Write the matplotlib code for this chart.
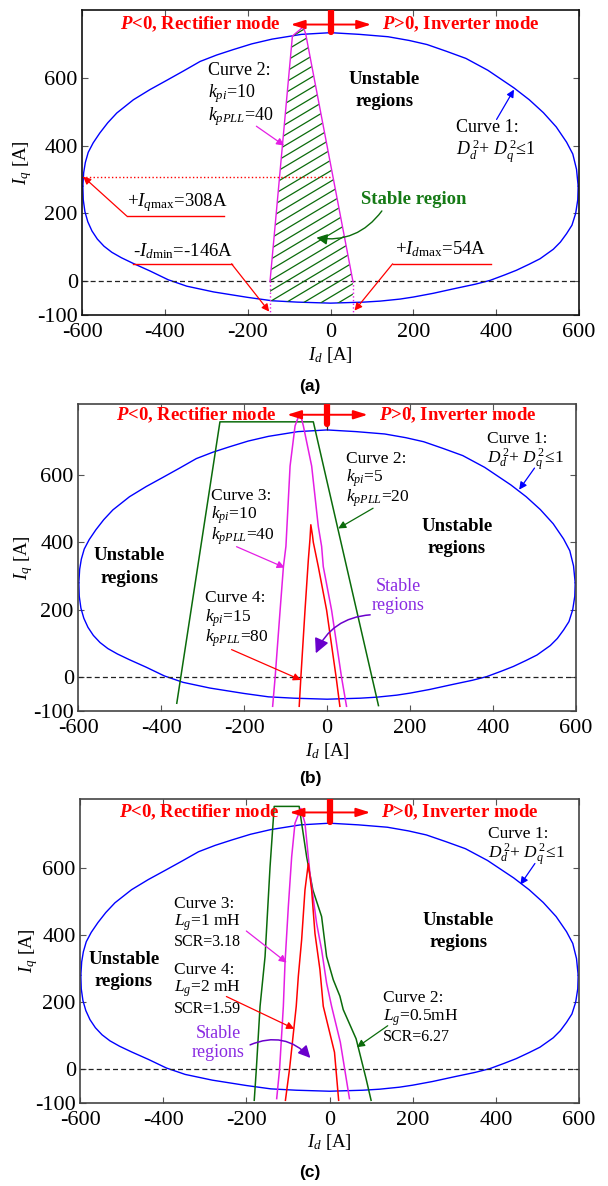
import numpy as np
import matplotlib.pyplot as plt
from matplotlib.patches import Polygon

plt.rcParams['font.family'] = ['Liberation Serif', 'DejaVu Serif']
plt.rcParams['axes.unicode_minus'] = False
plt.rcParams['mathtext.fontset'] = 'custom'
plt.rcParams['mathtext.rm'] = 'Liberation Serif'
plt.rcParams['mathtext.it'] = 'Liberation Serif:italic'
plt.rcParams['mathtext.bf'] = 'Liberation Serif:bold'
plt.rcParams['mathtext.bfit'] = 'Liberation Serif:italic:bold'

# Curve 1 (D_d^2 + D_q^2 <= 1), upper and lower branch, I_d / I_q in A
lim_up_id = [-598, -596, -592, -585, -573, -557, -538, -516, -476, -436, -396, -355, -315,
             -275, -235, -190, -141, -70, 0, 70, 139, 190, 233, 280, 327, 380, 443, 480,
             514, 545, 570, 585, 594, 598]
lim_up_iq = [280, 320, 350, 380, 408, 437, 467, 496, 535, 565, 592, 620, 648,
             667, 683, 700, 714, 728, 733, 728, 721, 710, 698, 678, 657, 622, 570, 535,
             497, 455, 410, 375, 330, 280]
lim_lo_id = [-598, -597, -593, -586, -576, -563, -547, -528, -505, -476, -436, -392, -347,
             -282, -200, -141, -80, 0, 80, 120, 168, 200, 248, 300, 350, 385, 420, 449,
             480, 506, 538, 555, 570, 583, 592, 597, 598]
lim_lo_iq = [280, 240, 205, 175, 148, 124, 103, 85, 69, 52, 30, 4, -15,
             -32, -48, -58, -62, -65, -62, -59, -53, -47, -36, -22, -9, 2, 18, 32,
             50, 66, 94, 115, 140, 165, 200, 240, 280]

# (a) curve 2: kpi=10, kpPLL=40
a_c2_id = [-146, -92, -66, -60, 54]
a_c2_iq = [0, 723, 750, 730, 0]
a_idmin = -146
a_idmax = 54
a_iqmax = 308

# (b) curve 2: kpi=5, kpPLL=20
b_c2_id = [-362, -258, -33, 124]
b_c2_iq = [-77, 757, 757, -84]
# (b) curve 3: kpi=10, kpPLL=40
b_c3_id = [-131, -125, -113, -105, -99, -89, -77, -65, -57, -37, -21, -13, -9, 11, 35, 47]
b_c3_iq = [-86, 0, 199, 328, 388, 626, 745, 785, 745, 626, 447, 388, 328, 199, 0, -86]
# (b) curve 4: kpi=15, kpPLL=80
b_c4_id = [-67, -63, -53, -45, -41, -39, -35, -33, -21, -1, 22, 31]
b_c4_iq = [-86, 0, 199, 348, 410, 452, 420, 400, 328, 199, 0, -86]

# (c) curve 2: Lg=0.5 mH
c_c2_id = [-181, -176, -167, -155, -143, -133, -73, -67, -55, -40, -19, -7, 9, 25, 33, 64, 88, 100]
c_c2_iq = [-92, 0, 188, 336, 603, 783, 783, 733, 633, 534, 455, 336, 267, 218, 178, 91, -28, -92]
# (c) curve 3: Lg=1 mH
c_c3_id = [-127, -120, -111, -107, -99, -91, -83, -69, -59, -47, -31, -19, -7, 5, 26, 48]
c_c3_iq = [-87, 2, 188, 317, 485, 633, 733, 777, 733, 583, 435, 356, 257, 188, 81, -87]
# (c) curve 4: Lg=2 mH
c_c4_id = [-106, -96, -80, -75, -67, -59, -51, -43, -35, -23, -15, 12, 22]
c_c4_iq = [-92, 2, 188, 277, 386, 534, 613, 534, 405, 297, 188, 51, -92]

x_ticks = [-600, -400, -200, 0, 200, 400, 600]
y_ticks = [-100, 0, 200, 400, 600]

RED = '#ff0000'
BLUE = '#0000ff'
MAG = '#e41ee4'
GRN = '#0b6b0b'
PURP = '#8a2be2'
PURP_AR = '#6a00cc'

fig = plt.figure(figsize=(6.08, 11.86), dpi=100)
ax_a = fig.add_axes([0.1349, 0.7344, 0.8174, 0.2572])
ax_b = fig.add_axes([0.1283, 0.4005, 0.8191, 0.2589])
ax_c = fig.add_axes([0.1316, 0.0700, 0.8207, 0.2563])


def setup(ax, top, ylab_x, frame):
    ax.set_xlim(-600, 600)
    ax.set_ylim(-100, top)
    ax.set_xticks(x_ticks)
    ax.set_yticks(y_ticks)
    ax.tick_params(direction='in', top=True, right=True, length=4, width=0.8,
                   color='#555555', labelsize=16)
    ax.tick_params(axis='x', pad=6)
    ax.tick_params(axis='y', pad=3)
    for sp in ax.spines.values():
        sp.set_color(frame)
        sp.set_linewidth(1.2)
    ax.set_xlabel(r'$I_d$ [A]', fontsize=13.5)
    ax.set_ylabel(r'$I_q$ [A]', fontsize=13.5)
    ax.xaxis.set_label_coords(0.5, -0.13)
    ax.xaxis.label.set_va('center')
    ax.yaxis.set_label_coords(ylab_x, 0.5)
    ax.yaxis.label.set_va('center')
    # stability limit of the converter
    ax.plot(lim_up_id, lim_up_iq, color=BLUE, lw=1.0)
    ax.plot(lim_lo_id, lim_lo_iq, color=BLUE, lw=1.0)
    ax.axhline(0, color='#222222', lw=0.9, ls=(0, (4, 2.5)))
    ax.plot([0, 0], [max(lim_up_iq), top], color='#222222', lw=0.9, ls=(0, (4, 2.5)))


def lines(ax, x, ys, texts, size=12.5, **kw):
    for y, t in zip(ys, texts):
        fs = size
        if isinstance(t, tuple):
            t, fs = t
        ax.text(x, y, t, fontsize=fs, va='center', **kw)


def arrow(ax, start, end, color, rad=0.0, scale=11, lw=0.9):
    ax.annotate('', xy=end, xytext=start,
                arrowprops=dict(arrowstyle='-|>', color=color, lw=lw, mutation_scale=scale,
                                shrinkA=0, shrinkB=0, connectionstyle=f'arc3,rad={rad}'))


def mode_header(ax, y, bar_lo, top):
    ax.text(-121, y, r'$\mathbfit{P}$<0, Rectifier mode', color=RED, fontsize=13.5,
            fontweight='bold', ha='right', va='center')
    ax.text(125, y, r'$\mathbfit{P}$>0, Inverter mode', color=RED, fontsize=13.5,
            fontweight='bold', ha='left', va='center')
    ax.annotate('', xy=(-96, y), xytext=(98, y),
                arrowprops=dict(arrowstyle='<|-|>,head_length=0.7,head_width=0.22', color=RED,
                                lw=1.4, mutation_scale=12, shrinkA=0, shrinkB=0))
    ax.plot([0, 0], [bar_lo, top], color=RED, lw=4.5, solid_capstyle='round', zorder=5)


# ---------------- (a) ----------------
ax = ax_a
setup(ax, 800, -0.119, '#111111')
mode_header(ax, 757, 736, 800)

lo_x = np.array(lim_lo_id, dtype=float)
lo_y = np.array(lim_lo_iq, dtype=float)
inner = [(x, y) for x, y in zip(lo_x, lo_y) if a_idmin < x < a_idmax][::-1]
verts = (list(zip(a_c2_id, a_c2_iq))
         + [(a_idmax, np.interp(a_idmax, lo_x, lo_y))] + inner
         + [(a_idmin, np.interp(a_idmin, lo_x, lo_y))])
region = Polygon(verts, closed=True, fill=False, lw=0)
ax.add_patch(region)
hx = np.array([-200.0, 100.0])
for c in np.arange(-140, 880, 31):
    ln, = ax.plot(hx, 0.73 * hx + c, color=GRN, lw=0.9)
    ln.set_clip_path(region)

ax.plot(a_c2_id, a_c2_iq, color=MAG, lw=1.0)
ax.plot([a_idmin, a_idmin], [0, -100], color=MAG, lw=1.0, ls=':')
ax.plot([a_idmax, a_idmax], [0, -100], color=MAG, lw=1.0, ls=':')
ax.plot([-600, 0], [a_iqmax, a_iqmax], color=RED, lw=1.0, ls=':')

lines(ax, -296, [621, 553, 485], ['Curve 2:', r'$k_{pi}$=10', r'$k_{pPLL}$=40'], size=13)
arrow(ax, (-179, 457), (-112, 400), MAG)
lines(ax, 130, [595, 531], ['Unstable', 'regions'], size=13.5, fontweight='bold', ha='center')
lines(ax, 303, [452, 383], ['Curve 1:', r'$D_d^{\,2}$+ $D_q^{\,2}$≤1'], size=13)
arrow(ax, (401, 477), (443, 565), BLUE)

ax.text(-492, 231, r'+$I_{q\mathrm{max}}$=308A', fontsize=13.5, va='center')
ax.plot([-258, -492], [192, 192], color=RED, lw=1.0)
arrow(ax, (-492, 192), (-597, a_iqmax), RED)

ax.text(74, 241, 'Stable region', color='#167a16', fontsize=13.5, fontweight='bold', va='center')
arrow(ax, (124, 207), (-34, 128), GRN, rad=-0.3, scale=16, lw=1.0)

ax.text(-478, 88, r'-$I_{d\mathrm{min}}$=-146A', fontsize=13.5, va='center')
ax.plot([-478, -239], [51, 51], color=RED, lw=1.0)
arrow(ax, (-239, 51), (a_idmin - 2, -90), RED)

ax.text(156, 95, r'+$I_{d\mathrm{max}}$=54A', fontsize=13.5, va='center')
ax.plot([387, 150], [51, 51], color=RED, lw=1.0)
arrow(ax, (150, 51), (a_idmax + 4, -87), RED)

# ---------------- (b) ----------------
ax = ax_b
setup(ax, 810, -0.11, '#444444')
mode_header(ax, 778, 750, 810)
ax.plot(b_c2_id, b_c2_iq, color=GRN, lw=1.1)
ax.plot(b_c3_id, b_c3_iq, color=MAG, lw=1.1)
ax.plot(b_c4_id, b_c4_iq, color=RED, lw=1.1)

lines(ax, 385, [706, 645], ['Curve 1:', r'$D_d^{\,2}$+ $D_q^{\,2}$≤1'])
arrow(ax, (500, 620), (463, 556), BLUE)
lines(ax, 45, [648, 589, 530], ['Curve 2:', r'$k_{pi}$=5', r'$k_{pPLL}$=20'])
arrow(ax, (111, 501), (27, 441), GRN)
lines(ax, 313, [448, 382], ['Unstable', 'regions'], size=13.5, fontweight='bold', ha='center')
lines(ax, -279, [538, 479, 418], ['Curve 3:', r'$k_{pi}$=10', r'$k_{pPLL}$=40'])
arrow(ax, (-218, 387), (-102, 325), MAG)
lines(ax, -476, [360, 293], ['Unstable', 'regions'], size=13.5, fontweight='bold', ha='center')
lines(ax, -295, [234, 175, 115], ['Curve 4:', r'$k_{pi}$=15', r'$k_{pPLL}$=80'])
arrow(ax, (-230, 82), (-63, -8), RED)
lines(ax, 172, [270, 213], ['Stable', 'regions'], size=13, color=PURP, ha='center')
arrow(ax, (104, 185), (-27, 71), PURP_AR, rad=0.3, scale=22, lw=1.1)

# ---------------- (c) ----------------
ax = ax_c
setup(ax, 805, -0.104, '#444444')
mode_header(ax, 765, 738, 805)
ax.plot(c_c2_id, c_c2_iq, color=GRN, lw=1.1)
ax.plot(c_c3_id, c_c3_iq, color=MAG, lw=1.1)
ax.plot(c_c4_id, c_c4_iq, color=RED, lw=1.1)

lines(ax, 381, [700, 639], ['Curve 1:', r'$D_d^{\,2}$+ $D_q^{\,2}$≤1'])
arrow(ax, (494, 613), (459, 550), BLUE)
lines(ax, 310, [442, 377], ['Unstable', 'regions'], size=13.5, fontweight='bold', ha='center')
lines(ax, -495, [328, 261], ['Unstable', 'regions'], size=13.5, fontweight='bold', ha='center')
lines(ax, -375, [492, 437, 380], ['Curve 3:', r'$L_g$=1 mH', ('SCR=3.18', 11.5)])
arrow(ax, (-200, 412), (-103, 318), MAG)
lines(ax, -375, [297, 239, 180], ['Curve 4:', r'$L_g$=2 mH', ('SCR=1.59', 11.5)])
arrow(ax, (-248, 217), (-85, 121), RED)
lines(ax, 129, [213, 155, 97], ['Curve 2:', r'$L_g$=0.5mH', ('SCR=6.27', 11.5)])
arrow(ax, (140, 130), (66, 66), GRN)
lines(ax, -267, [106, 51], ['Stable', 'regions'], size=13, color=PURP, ha='center')
arrow(ax, (-191, 73), (-46, 34), PURP_AR, rad=-0.35, scale=18, lw=1.1)

for lab, yf in [('(a)', 0.6737), ('(b)', 0.344), ('(c)', 0.011)]:
    fig.text(0.51, yf, lab, family=['Liberation Sans', 'DejaVu Sans'], fontweight='bold',
             fontsize=12.5, ha='center', va='center')

fig.savefig('out.png', dpi=100)
